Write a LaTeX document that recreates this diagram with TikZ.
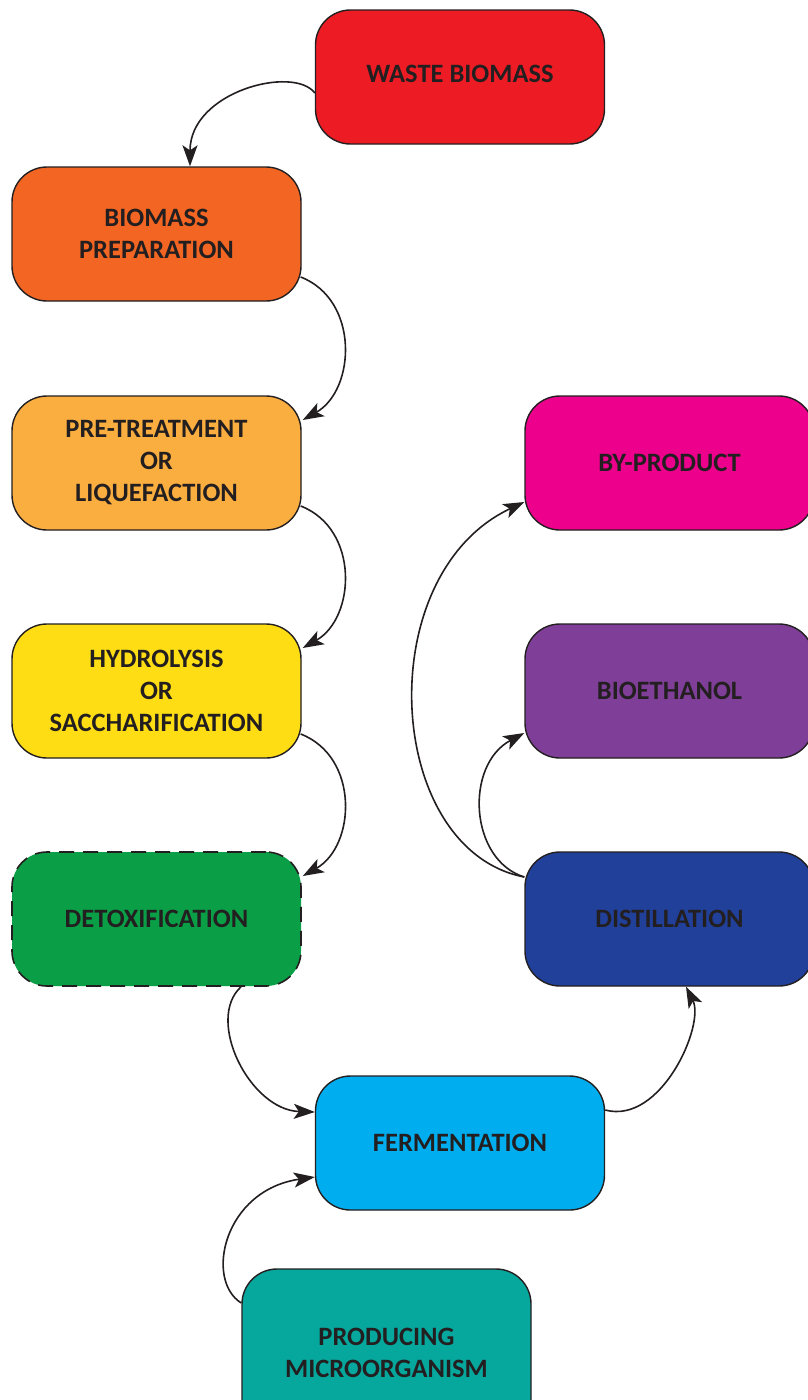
\documentclass[tikz,border=0pt]{standalone}
\usepackage{fontspec}
\setmainfont{Carlito}
\usetikzlibrary{arrows.meta}

\definecolor{ink}{HTML}{231F20}
\definecolor{cRed}{HTML}{ED1C24}
\definecolor{cOrange}{HTML}{F26522}
\definecolor{cLightOrange}{HTML}{FBAE40}
\definecolor{cYellow}{HTML}{FFDD15}
\definecolor{cGreen}{HTML}{0A9E47}
\definecolor{cCyan}{HTML}{00AEEF}
\definecolor{cTeal}{HTML}{06A79D}
\definecolor{cMagenta}{HTML}{EC008C}
\definecolor{cPurple}{HTML}{7F3F98}
\definecolor{cBlue}{HTML}{21409A}

\tikzset{
  stage/.style={draw=ink, line width=1.4pt, rounded corners=35pt,
    minimum width=289pt, minimum height=134pt, align=center,
    text=ink, font=\fontsize{26.5}{32}\selectfont\bfseries, inner sep=0pt},
  flow/.style={draw=ink, line width=1.6pt,
    -{Stealth[length=21pt,width=15pt,inset=5pt]}},
}

\begin{document}
\begin{tikzpicture}[x=1pt,y=-1pt]
\useasboundingbox (0,0) rectangle (807,1400);

% process stages, left column and bottom
\node[stage, fill=cRed] (waste) at (460,77) {WASTE BIOMASS\rule[-6pt]{0pt}{6pt}};
\node[stage, fill=cOrange] (prep) at (156.5,234) {BIOMASS\\PREPARATION};
\node[stage, fill=cLightOrange] (pre) at (156.5,463) {PRE-TREATMENT\\OR\\LIQUEFACTION};
\node[stage, fill=cYellow] (hydro) at (156.5,691) {HYDROLYSIS\\OR\\SACCHARIFICATION};
\node[stage, fill=cGreen, line width=1.6pt, dash pattern=on 15pt off 9pt] (detox) at (156.5,919) {DETOXIFICATION};
\node[stage, fill=cCyan] (ferm) at (460,1143) {FERMENTATION};
\node[stage, fill=cTeal, minimum height=168pt] (micro) at (386.5,1353) {PRODUCING\\MICROORGANISM};

% products, right column
\node[stage, fill=cMagenta] (byprod) at (669.5,463) {BY-PRODUCT};
\node[stage, fill=cPurple] (ethanol) at (669.5,691) {BIOETHANOL};
\node[stage, fill=cBlue] (distil) at (669.5,919) {DISTILLATION};

% connectors
\draw[flow] ([yshift=-16pt]waste.west) .. controls +(-21,-28) and +(0,-75) .. ([xshift=33.5pt]prep.north);
\draw[flow] ([xshift=-1pt,yshift=-43pt]prep.east) .. controls +(59,23) and +(53,-30) .. ([xshift=1pt,yshift=43pt]pre.east);
\draw[flow] ([xshift=-1pt,yshift=-43pt]pre.east) .. controls +(59,23) and +(53,-30) .. ([xshift=1pt,yshift=43pt]hydro.east);
\draw[flow] ([xshift=-1pt,yshift=-43pt]hydro.east) .. controls +(59,23) and +(53,-30) .. ([xshift=1pt,yshift=43pt]detox.east);
\draw[flow] ([xshift=84.5pt]detox.south) .. controls +(-36,33) and +(-65,-2) .. ([yshift=31pt]ferm.west);
\draw[flow] ([yshift=50pt]micro.west) .. controls +(-37,-23) and +(-91,13) .. ([yshift=-34pt]ferm.west);
\draw[flow] ([yshift=33pt]ferm.east) .. controls +(56,15) and +(19,38) .. ([xshift=16.5pt]distil.south);
\draw[flow] ([yshift=42pt]distil.west) .. controls +(-55,-17) and +(-60,32) .. ([yshift=-42pt]ethanol.west);
\draw[flow] ([yshift=42pt]distil.west) .. controls +(-140,-27) and +(-155,73) .. ([yshift=-39pt]byprod.west);
\end{tikzpicture}
\end{document}
